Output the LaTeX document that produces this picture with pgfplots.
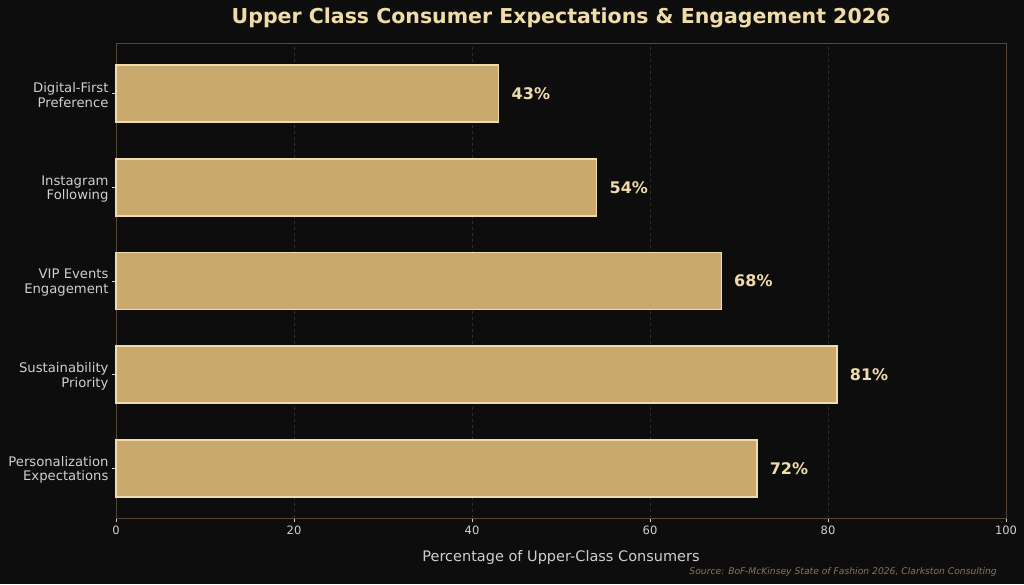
\documentclass[border=0pt]{standalone}
\usepackage{pgfplots}
\pgfplotsset{compat=1.18}
\usepackage{fontspec}
\setmainfont{DejaVu Sans}
\definecolor{bg}{HTML}{0D0D0D}
\definecolor{barfill}{HTML}{C9A96E}
\definecolor{baredge}{HTML}{F0DCA8}
\definecolor{cream}{HTML}{F0DCA8}
\definecolor{spine}{HTML}{54473A}
\definecolor{gridc}{HTML}{2E2E2E}
\definecolor{ticktext}{HTML}{CFCFCF}
\definecolor{srcc}{HTML}{8B7355}
\begin{document}
\begin{tikzpicture}[x=1pt,y=1pt]
\fill[bg] (0,0) rectangle (1024,584);
\begin{axis}[
  at={(116pt,66pt)}, anchor=south west,
  scale only axis, width=890pt, height=474pt,
  xbar, bar width=57pt,
  xmin=0, xmax=100,
  ymin=-0.53, ymax=4.53,
  ytick={0,1,2,3,4},
  yticklabels={{Personalization\\Expectations},{Sustainability\\Priority},{VIP Events\\Engagement},{Instagram\\Following},{Digital-First\\Preference}},
  yticklabel style={align=right, font=\fontsize{13.2}{14.5}\selectfont, text=ticktext, yshift=-1.5pt},
  xtick={0,20,40,60,80,100},
  xticklabel style={font=\fontsize{11.5}{13}\selectfont, text=ticktext},
  /pgf/number format/assume math mode=true,
  tick pos=left,
  axis line style={spine, line width=1pt},
  tick style={ticktext, line width=0.6pt},
  tick align=outside,
  major tick length=4pt,
  xmajorgrids,
  grid style={gridc, dashed, line width=0.7pt},
  xlabel={Percentage of Upper-Class Consumers},
  xlabel style={font=\fontsize{14.5}{16}\selectfont, text=ticktext, at={(0.5,0)}, anchor=center, yshift=-39pt},
  title={\bfseries Upper Class Consumer Expectations \& Engagement 2026},
  title style={font=\fontsize{20.5}{22}\selectfont, text=cream, at={(0.5,1)}, anchor=center, yshift=20pt},
  nodes near coords={\pgfmathprintnumber{\pgfplotspointmeta}\%},
  nodes near coords style={font=\bfseries\fontsize{16}{18}\selectfont, text=cream, anchor=west, xshift=9pt},
  point meta=x,
  clip=false,
]
\addplot[fill=barfill, draw=baredge, line width=1.4pt] coordinates {
  (72,0) (81,1) (68,2) (54,3) (43,4)
};
\end{axis}
\node[anchor=base east, inner sep=0pt, font=\itshape\fontsize{9.2}{11}\selectfont, text=srcc] at (997,9.5) {Source: BoF-McKinsey State of Fashion 2026, Clarkston Consulting};
\pgfresetboundingbox
\path (0,0) rectangle (1024,584);
\end{tikzpicture}
\end{document}
